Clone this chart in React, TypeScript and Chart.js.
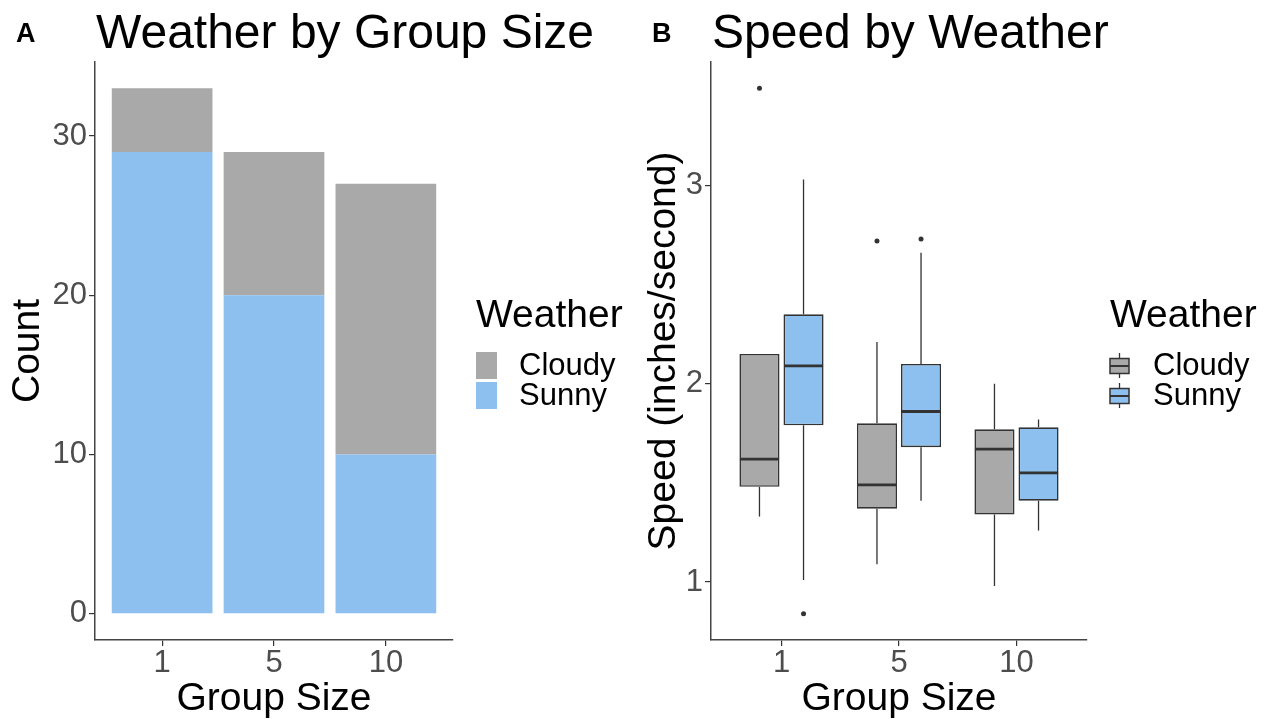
import React, { useEffect, useRef } from 'react';
import { Chart, registerables } from 'chart.js';

Chart.register(...registerables);

const FONT = "'Liberation Sans', Arial, Helvetica, sans-serif";

// ---------- data ----------
const groupSizes = ['1', '5', '10'];
const weatherLevels = ['Cloudy', 'Sunny'];

// Panel A: counts
const cloudyCounts = [4, 9, 17];
const sunnyCounts = [29, 20, 10];
const countTicks = [0, 10, 20, 30];

// Panel B: speed box-plot statistics (inches/second)
const cloudyLow = [1.33, 1.09, 0.98];
const cloudyQ1 = [1.48, 1.37, 1.34];
const cloudyMedian = [1.62, 1.49, 1.67];
const cloudyQ3 = [2.15, 1.8, 1.77];
const cloudyHigh = [2.15, 2.21, 2.0];
const cloudyOutliers = [[3.49], [2.72], []];

const sunnyLow = [1.01, 1.41, 1.26];
const sunnyQ1 = [1.79, 1.68, 1.41];
const sunnyMedian = [2.09, 1.86, 1.55];
const sunnyQ3 = [2.35, 2.1, 1.78];
const sunnyHigh = [3.03, 2.66, 1.82];
const sunnyOutliers = [[0.84], [2.73], []];

const speedTicks = [1, 2, 3];

// ---------- styles ----------
const CLOUDY = '#A9A9A9';
const SUNNY = '#8DC0EE';
const INK = '#333333';
const TICK_TEXT = '#4D4D4D';

const positions = groupSizes.map((_, i) => i + 1);

// ---------- plugins ----------
const headerPlugin = {
  id: 'header',
  afterDraw(chart: any, _args: any, opts: any) {
    const { ctx, chartArea } = chart;
    ctx.save();
    ctx.fillStyle = '#000';
    ctx.textBaseline = 'alphabetic';
    ctx.textAlign = 'left';
    ctx.font = `bold 27px ${FONT}`;
    ctx.fillText(opts.tag, opts.tagX, 42);
    ctx.font = `48px ${FONT}`;
    ctx.fillText(opts.title, chartArea.left + 1, 48);
    ctx.restore();
  },
};

const legendPlugin = {
  id: 'ggLegend',
  afterDraw(chart: any, _args: any, opts: any) {
    const { ctx, chartArea } = chart;
    const x0 = chartArea.right + 23;
    const mid = (chartArea.top + chartArea.bottom) / 2;
    ctx.save();
    ctx.fillStyle = '#000';
    ctx.textAlign = 'left';
    ctx.textBaseline = 'alphabetic';
    ctx.font = `39px ${FONT}`;
    ctx.fillText(opts.title, x0, mid - 24);
    const items = opts.items as { label: string; color: string }[];
    items.forEach((it, i) => {
      const keyTop = mid + 1 + i * 30;
      const cy = keyTop + 14;
      if (opts.kind === 'rect') {
        ctx.fillStyle = it.color;
        ctx.fillRect(x0, keyTop, 21, 27);
      } else {
        const cx = x0 + 9.5;
        ctx.strokeStyle = INK;
        ctx.lineWidth = 1.3;
        ctx.beginPath();
        ctx.moveTo(cx, cy - 13);
        ctx.lineTo(cx, cy + 12);
        ctx.stroke();
        ctx.fillStyle = it.color;
        ctx.fillRect(x0, cy - 7.5, 19, 15);
        ctx.lineWidth = 1.5;
        ctx.strokeRect(x0, cy - 7.5, 19, 15);
        ctx.lineWidth = 2;
        ctx.beginPath();
        ctx.moveTo(x0, cy);
        ctx.lineTo(x0 + 19, cy);
        ctx.stroke();
      }
      ctx.fillStyle = '#000';
      ctx.font = `31px ${FONT}`;
      ctx.textBaseline = 'middle';
      ctx.fillText(it.label, x0 + 43, cy);
    });
    ctx.restore();
  },
};

const boxplotPlugin = {
  id: 'boxplotParts',
  beforeDatasetsDraw(chart: any) {
    const { ctx } = chart;
    const y = chart.scales.y;
    ctx.save();
    ctx.strokeStyle = INK;
    ctx.lineWidth = 1.3;
    chart.data.datasets.forEach((ds: any, d: number) => {
      const meta = chart.getDatasetMeta(d);
      meta.data.forEach((bar: any, i: number) => {
        const s = ds.stats;
        ctx.beginPath();
        ctx.moveTo(bar.x, y.getPixelForValue(s.q3[i]));
        ctx.lineTo(bar.x, y.getPixelForValue(s.high[i]));
        ctx.moveTo(bar.x, y.getPixelForValue(s.q1[i]));
        ctx.lineTo(bar.x, y.getPixelForValue(s.low[i]));
        ctx.stroke();
      });
    });
    ctx.restore();
  },
  afterDatasetsDraw(chart: any) {
    const { ctx } = chart;
    const y = chart.scales.y;
    ctx.save();
    chart.data.datasets.forEach((ds: any, d: number) => {
      const meta = chart.getDatasetMeta(d);
      meta.data.forEach((bar: any, i: number) => {
        const s = ds.stats;
        const half = bar.width / 2;
        const ym = y.getPixelForValue(s.median[i]);
        ctx.strokeStyle = INK;
        ctx.lineWidth = 2.8;
        ctx.beginPath();
        ctx.moveTo(bar.x - half + 0.5, ym);
        ctx.lineTo(bar.x + half - 0.5, ym);
        ctx.stroke();
        ctx.fillStyle = INK;
        (s.outliers[i] as number[]).forEach((v) => {
          ctx.beginPath();
          ctx.arc(bar.x, y.getPixelForValue(v), 2.5, 0, Math.PI * 2);
          ctx.fill();
        });
      });
    });
    ctx.restore();
  },
};

// ---------- shared axis pieces ----------
const tickFont = { family: FONT, size: 31, lineHeight: 1 };
const titleFont = { family: FONT, size: 39, lineHeight: 1 };
const gridOpts = { display: true, drawOnChartArea: false, drawTicks: true, tickLength: 6, color: INK, lineWidth: 1.2, offset: false };
const borderOpts = { display: true, color: '#444444', width: 1.5 };

function xScale(stacked: boolean) {
  return {
    type: 'linear',
    min: 0.4,
    max: groupSizes.length + 0.6,
    offset: false,
    stacked,
    afterBuildTicks: (s: any) => {
      s.ticks = positions.map((v) => ({ value: v }));
    },
    afterFit: (s: any) => {
      s.height = 79;
    },
    ticks: {
      callback: (v: any) => groupSizes[Math.round(v) - 1] ?? '',
      font: tickFont,
      color: TICK_TEXT,
      padding: 2,
      autoSkip: false,
      maxRotation: 0,
    },
    grid: gridOpts,
    border: borderOpts,
    title: { display: true, text: 'Group Size', font: titleFont, color: '#000', padding: { top: 0, bottom: 0 } },
  };
}

function yScale(min: number, max: number, tickVals: number[], title: string, stacked: boolean, width: number) {
  return {
    type: 'linear',
    min,
    max,
    stacked,
    afterBuildTicks: (s: any) => {
      s.ticks = tickVals.map((v) => ({ value: v }));
    },
    afterFit: (s: any) => {
      s.width = width;
    },
    ticks: { font: tickFont, color: TICK_TEXT, padding: 2 },
    grid: gridOpts,
    border: borderOpts,
    title: { display: true, text: title, font: titleFont, color: '#000', padding: { top: 9, bottom: 0 } },
  };
}

export default function App() {
  const refA = useRef<HTMLCanvasElement>(null);
  const refB = useRef<HTMLCanvasElement>(null);

  useEffect(() => {
    const totals = cloudyCounts.map((c, i) => c + sunnyCounts[i]);
    const maxTotal = Math.max(...totals);
    const padA = maxTotal * 0.05;

    const chartA = new Chart(refA.current as HTMLCanvasElement, {
      type: 'bar',
      data: {
        datasets: [
          {
            label: 'Sunny',
            data: positions.map((x, i) => ({ x, y: sunnyCounts[i] })),
            backgroundColor: SUNNY,
            borderWidth: 0,
          },
          {
            label: 'Cloudy',
            data: positions.map((x, i) => ({ x, y: cloudyCounts[i] })),
            backgroundColor: CLOUDY,
            borderWidth: 0,
          },
        ],
      },
      options: {
        responsive: false,
        animation: false,
        events: [],
        categoryPercentage: 1,
        barPercentage: 0.9,
        layout: { padding: { left: 0, top: 62, right: 183, bottom: 0 } },
        scales: {
          x: xScale(true),
          y: yScale(-padA, maxTotal + padA, countTicks, 'Count', true, 95),
        },
        plugins: {
          legend: { display: false },
          tooltip: { enabled: false },
          header: { tag: 'A', tagX: 16, title: 'Weather by Group Size' },
          ggLegend: {
            title: 'Weather',
            kind: 'rect',
            items: [
              { label: weatherLevels[0], color: CLOUDY },
              { label: weatherLevels[1], color: SUNNY },
            ],
          },
        },
      } as any,
      plugins: [headerPlugin, legendPlugin],
    });

    const allSpeed = [
      ...cloudyLow, ...cloudyHigh, ...sunnyLow, ...sunnyHigh,
      ...cloudyOutliers.flat(), ...sunnyOutliers.flat(),
    ];
    const sMin = Math.min(...allSpeed);
    const sMax = Math.max(...allSpeed);
    const padB = (sMax - sMin) * 0.05;

    const chartB = new Chart(refB.current as HTMLCanvasElement, {
      type: 'bar',
      data: {
        datasets: [
          {
            label: 'Cloudy',
            data: positions.map((x, i) => ({ x, y: [cloudyQ1[i], cloudyQ3[i]] })),
            backgroundColor: CLOUDY,
            borderColor: INK,
            borderWidth: 1.6,
            borderSkipped: false,
            stats: { low: cloudyLow, q1: cloudyQ1, median: cloudyMedian, q3: cloudyQ3, high: cloudyHigh, outliers: cloudyOutliers },
          },
          {
            label: 'Sunny',
            data: positions.map((x, i) => ({ x, y: [sunnyQ1[i], sunnyQ3[i]] })),
            backgroundColor: SUNNY,
            borderColor: INK,
            borderWidth: 1.6,
            borderSkipped: false,
            stats: { low: sunnyLow, q1: sunnyQ1, median: sunnyMedian, q3: sunnyQ3, high: sunnyHigh, outliers: sunnyOutliers },
          },
        ] as any,
      },
      options: {
        responsive: false,
        animation: false,
        events: [],
        categoryPercentage: 0.75,
        barPercentage: 0.91,
        layout: { padding: { left: 0, top: 62, right: 185, bottom: 0 } },
        scales: {
          x: xScale(false),
          y: yScale(sMin - padB, sMax + padB, speedTicks, 'Speed (inches/second)', false, 75),
        },
        plugins: {
          legend: { display: false },
          tooltip: { enabled: false },
          header: { tag: 'B', tagX: 16, title: 'Speed by Weather' },
          ggLegend: {
            title: 'Weather',
            kind: 'box',
            items: [
              { label: weatherLevels[0], color: CLOUDY },
              { label: weatherLevels[1], color: SUNNY },
            ],
          },
        },
      } as any,
      plugins: [boxplotPlugin, headerPlugin, legendPlugin],
    });

    return () => {
      chartA.destroy();
      chartB.destroy();
    };
  }, []);

  return (
    <div style={{ position: 'fixed', left: 0, top: 0, width: 1272, height: 719, background: '#ffffff', overflow: 'hidden' }}>
      <canvas ref={refA} width={636} height={719} style={{ position: 'absolute', left: 0, top: 0, width: 636, height: 719 }} />
      <canvas ref={refB} width={636} height={719} style={{ position: 'absolute', left: 636, top: 0, width: 636, height: 719 }} />
    </div>
  );
}
